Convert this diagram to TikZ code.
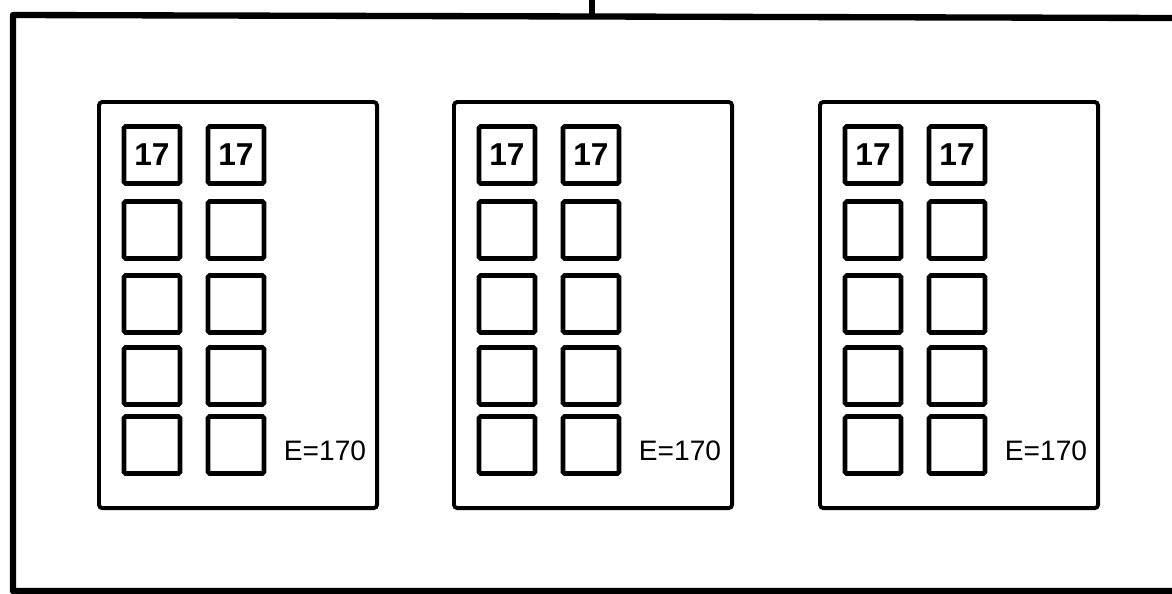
\documentclass[tikz,border=0pt]{standalone}
\usepackage{fontspec}
\setsansfont{Liberation Sans}
\usepackage{tikz}
\usetikzlibrary{positioning}
\tikzset{
  frame/.style={line width=1.8pt,line join=round},
  panel/.style={draw,line width=1.1pt,rounded corners=1pt,minimum width=2.78cm,minimum height=4.06cm,inner sep=0pt},
  cell/.style={draw,line width=1.3pt,rounded corners=0.5pt,minimum width=0.56cm,minimum height=0.57cm,inner sep=0pt,font=\sffamily\bfseries\small},
  tag/.style={font=\sffamily\footnotesize,inner sep=1pt}
}

\begin{document}
\begin{tikzpicture}[x=0.01cm,y=-0.01cm]
\useasboundingbox (0,0) rectangle (1172,594);
\draw[frame] (1172,18)--(13,15)--(13,591)--(1172,591);
\coordinate (stubtop) at (592,0);
\coordinate (stubfoot) at (592,16);
\draw[frame] (stubtop)--(stubfoot);
\foreach \p/\px in {a/97,b/452,c/818}{
  \node[panel,anchor=north west] (panel-\p) at (\px,100) {};
  \foreach \r/\ry in {1/155,2/230,3/304,4/376,5/445}{
    \foreach \c/\cx in {1/55,2/139}{
      \node[cell] (cell-\p-\r\c) at (\px+\cx,\ry) {\ifnum\r=1 17\fi};
    }
  }
  \node[tag] (tag-\p) at (\px+228,451) {E=170};
}
\end{tikzpicture}
\end{document}
